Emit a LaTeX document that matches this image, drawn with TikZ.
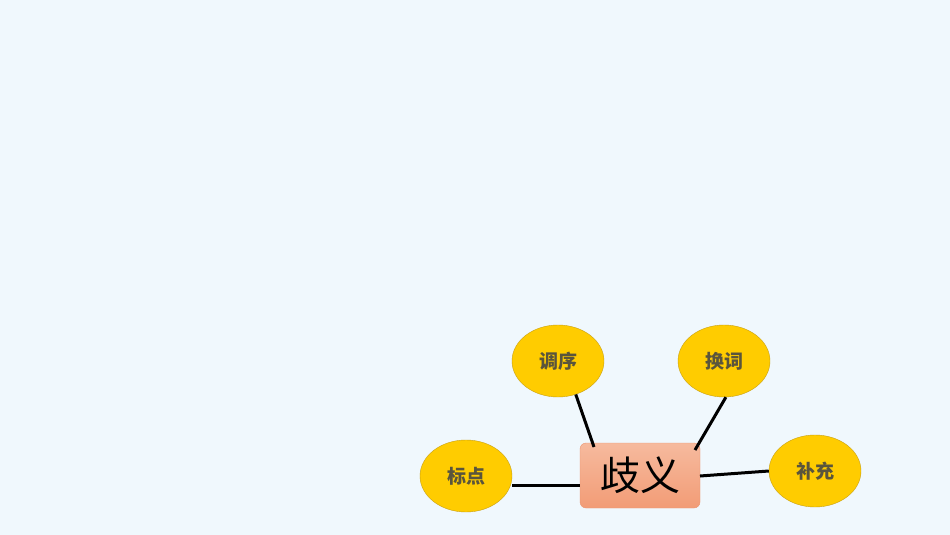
\documentclass[tikz,border=0pt]{standalone}
\usepackage{fontspec}
\usetikzlibrary{shapes.geometric}
\newfontfamily\cjk{Noto Sans CJK SC}
\begin{document}
\begin{tikzpicture}[x=1pt,y=-1pt,
  leaf/.style={ellipse,draw={rgb,255:red,200;green,160;blue,20},fill={rgb,255:red,255;green,204;blue,0},minimum width=92pt,minimum height=72pt,inner sep=0pt,font=\cjk\bfseries\fontsize{19}{19}\selectfont,text={rgb,255:red,90;green,85;blue,60}},
  link/.style={line width=3pt,black}]
\useasboundingbox (0,0) rectangle (950,535);
\fill[fill={rgb,255:red,240;green,248;blue,253}] (0,0) rectangle (950,535);
\definecolor{topc}{RGB}{246,186,158}
\definecolor{botc}{RGB}{242,156,118}
\node[draw={rgb,255:red,235;green,150;blue,115},top color=topc,bottom color=botc,rounded corners=6pt,minimum width=120pt,minimum height=65pt,inner sep=0pt,font=\cjk\fontsize{40}{40}\selectfont] (c) at (640,475.5) {歧义};
\node[leaf] (a) at (558,361) {调序};
\node[leaf] (b) at (724,361) {换词};
\node[leaf] (d) at (466,476) {标点};
\node[leaf] (e) at (815,471) {补充};
\draw[link] (d.east |- 0,485) -- (c.west |- 0,485);
\draw[link] (a.-62) -- (594,447);
\draw[link] (b.-87) -- (695,450);
\draw[link] (700,476) -- (e.west);
\end{tikzpicture}
\end{document}
